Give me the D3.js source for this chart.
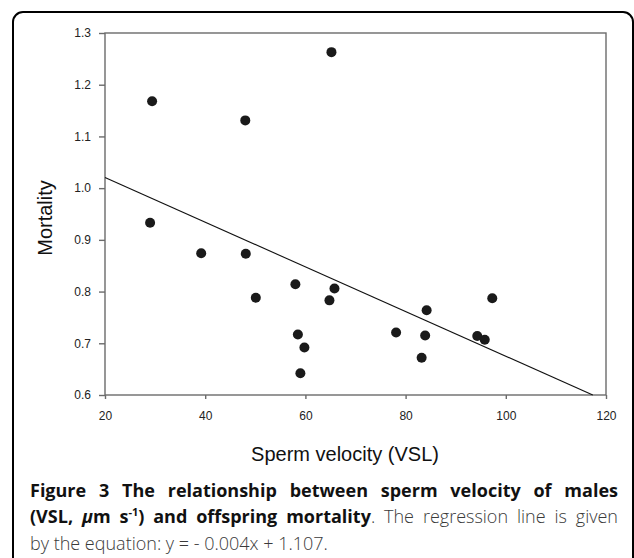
<!DOCTYPE html>
<html>
<head>
<meta charset="utf-8">
<script src="https://cdn.jsdelivr.net/npm/d3@7"></script>
<style>
  body { margin: 0; background: #fff; }
  svg { display: block; }
</style>
</head>
<body>
<div id="main"></div>
<script>
// values
const velocity = [29.4, 48.0, 65.2, 29.0, 39.2, 48.1, 50.1, 58.0, 58.5, 59.8,
                  59.0, 65.8, 64.8, 84.2, 78.1, 83.9, 83.2, 94.3, 95.8, 97.3];
const mortality = [1.168, 1.131, 1.263, 0.933, 0.874, 0.873, 0.788, 0.814, 0.717, 0.692,
                   0.642, 0.806, 0.783, 0.764, 0.721, 0.715, 0.672, 0.714, 0.707, 0.787];
const xTicks = [20, 40, 60, 80, 100, 120];
const yTicks = [0.6, 0.7, 0.8, 0.9, 1.0, 1.1, 1.2, 1.3];
const fitSlope = -0.00432;
const fitIntercept = 1.107;

const xTitle = "Sperm velocity (VSL)";
const yTitle = "Mortality";

width = 634;
height = 558;
margin = ({top: 33, right: 28, bottom: 163, left: 105});

x = d3.scaleLinear()
    .domain([20, 120])
    .range([margin.left, width - margin.right]);

y = d3.scaleLinear()
    .domain([0.6, 1.3])
    .range([height - margin.bottom, margin.top]);

const svg = d3.select("#main").append("svg")
    .attr("width", width)
    .attr("height", height);

// outer rounded frame, runs off the bottom of the picture
svg.append("rect")
    .attr("x", 13).attr("y", 12)
    .attr("width", 620).attr("height", 620)
    .attr("rx", 10)
    .attr("fill", "none")
    .attr("stroke", "#000")
    .attr("stroke-width", 2);

const axisFont = "'Liberation Sans', Arial, sans-serif";

// plot box
svg.append("rect")
    .attr("x", x(20)).attr("y", y(1.3))
    .attr("width", x(120) - x(20))
    .attr("height", y(0.6) - y(1.3))
    .attr("fill", "none")
    .attr("stroke", "#6b6b6b")
    .attr("stroke-width", 1.4);

xAxis = g => g
    .attr("transform", `translate(0,${y(0.6)})`)
    .call(d3.axisBottom(x).tickValues(xTicks).tickSize(4).tickPadding(12).tickSizeOuter(0))
    .attr("font-family", axisFont)
    .attr("font-size", 12)
    .call(g => g.select(".domain").remove())
    .call(g => g.selectAll(".tick line").attr("stroke", "#6b6b6b").attr("stroke-width", 1.4))
    .call(g => g.selectAll(".tick text").attr("fill", "#222"));

yAxis = g => g
    .attr("transform", `translate(${x(20)},0)`)
    .call(d3.axisLeft(y).tickValues(yTicks).tickFormat(d3.format(".1f")).tickSize(6).tickPadding(8).tickSizeOuter(0))
    .attr("font-family", axisFont)
    .attr("font-size", 12)
    .call(g => g.select(".domain").remove())
    .call(g => g.selectAll(".tick line").attr("stroke", "#6b6b6b").attr("stroke-width", 1.4))
    .call(g => g.selectAll(".tick text").attr("fill", "#222"));

svg.append("g").call(xAxis);
svg.append("g").call(yAxis);

// regression line, drawn until it meets the bottom of the plot
const xEnd = (0.6 - fitIntercept) / fitSlope;
svg.append("line")
    .attr("x1", x(20)).attr("y1", y(fitIntercept + fitSlope * 20))
    .attr("x2", x(xEnd)).attr("y2", y(0.6))
    .attr("stroke", "#111")
    .attr("stroke-width", 1.1);

svg.append("g")
    .attr("fill", "#1a1a1a")
    .selectAll("circle")
    .data(d3.range(velocity.length))
    .join("circle")
    .attr("cx", i => x(velocity[i]))
    .attr("cy", i => y(mortality[i]))
    .attr("r", 5);

// axis titles
svg.append("text")
    .attr("x", 345).attr("y", 461)
    .attr("text-anchor", "middle")
    .attr("font-family", axisFont)
    .attr("font-size", 20)
    .attr("fill", "#111")
    .text(xTitle);

svg.append("text")
    .attr("transform", "translate(52,218) rotate(-90)")
    .attr("text-anchor", "middle")
    .attr("font-family", axisFont)
    .attr("font-size", 20)
    .attr("fill", "#111")
    .text(yTitle);

// caption, first two lines justified
const capLeft = 30, capRight = 618;
const capLines = [
  {y: 497, justify: true, parts: [
    {t: "Figure 3 The relationship between sperm velocity of males", b: true}
  ]},
  {y: 523, justify: true, parts: [
    {t: "(VSL, ", b: true},
    {t: "\u03bc", b: true, i: true},
    {t: "m s", b: true},
    {t: "-1", b: true, sup: true},
    {t: ") and offspring mortality", b: true},
    {t: ". The regression line is given"}
  ]},
  {y: 550, justify: false, parts: [
    {t: "by the equation: y = - 0.004x + 1.107."}
  ]}
];

capLines.forEach(line => {
  const txt = svg.append("text")
      .attr("x", capLeft).attr("y", line.y)
      .attr("font-family", "'Open Sans', 'DejaVu Sans', sans-serif")
      .attr("font-size", 18)
      .attr("xml:space", "preserve");
  let shifted = false;
  line.parts.forEach(p => {
    const ts = txt.append("tspan")
        .attr("fill", p.b ? "#111" : "#3a3a3a")
        .attr("font-weight", p.b ? 700 : 300)
        .attr("font-style", p.i ? "italic" : "normal")
        .text(p.t);
    if (p.sup) { ts.attr("font-size", 11).attr("dy", -7); shifted = true; }
    else if (shifted) { ts.attr("dy", 7); shifted = false; }
  });
  if (line.justify) {
    const natural = txt.node().getComputedTextLength();
    const spaces = line.parts.map(p => p.t).join("").split(" ").length - 1;
    txt.attr("word-spacing", Math.max(0, (capRight - capLeft - natural) / spaces));
  }
});
</script>
</body>
</html>
